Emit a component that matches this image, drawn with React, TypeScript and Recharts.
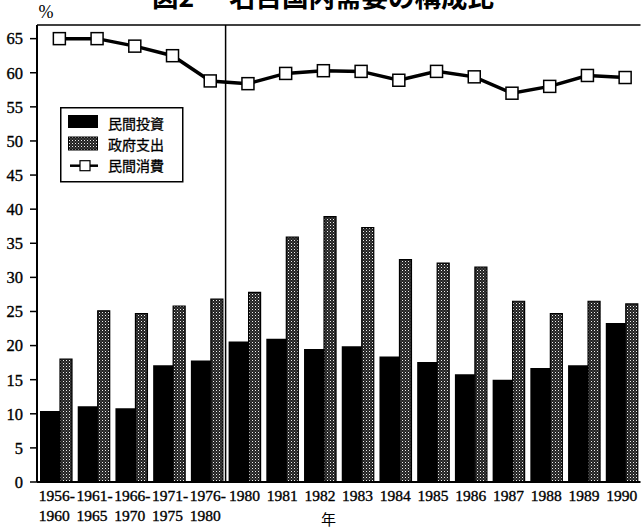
import React from "react";
import { ComposedChart, Bar, Line, XAxis, YAxis, ReferenceLine, Legend } from "recharts";

const categories = [
  "1956-1960", "1961-1965", "1966-1970", "1971-1975", "1976-1980",
  "1980", "1981", "1982", "1983", "1984", "1985", "1986", "1987", "1988", "1989", "1990",
];
const privateInvestment = [10.4, 11.1, 10.8, 17.1, 17.8, 20.6, 21.0, 19.5, 19.9, 18.4, 17.6, 15.8, 15.0, 16.7, 17.1, 23.3];
const governmentSpending = [18.0, 25.1, 24.7, 25.8, 26.8, 27.8, 35.9, 38.9, 37.3, 32.6, 32.1, 31.5, 26.5, 24.7, 26.5, 26.1];
const privateConsumption = [65.0, 65.0, 63.9, 62.5, 58.8, 58.4, 59.9, 60.3, 60.2, 58.9, 60.2, 59.4, 57.0, 58.0, 59.6, 59.3];
const yTicks = [0, 5, 10, 15, 20, 25, 30, 35, 40, 45, 50, 55, 60, 65];

const seriesNames = ["民間投資", "政府支出", "民間消費"];

const data = categories.map((c, i) => ({
  year: c,
  inv: privateInvestment[i],
  gov: governmentSpending[i],
  cons: privateConsumption[i],
}));

const serif = "'Liberation Serif', 'Times New Roman', serif";
const gothic = "'Noto Sans CJK JP', 'Noto Sans', sans-serif";

const DotPattern = ({ id }: { id: string }) => (
  <pattern id={id} width={3} height={3} patternUnits="userSpaceOnUse">
    <rect width={3} height={3} fill="#222" />
    <rect x={0} y={0} width={1} height={1} fill="#eee" />
    <rect x={1.5} y={1.5} width={1} height={1} fill="#777" />
  </pattern>
);

const YearTick = (props: any) => {
  const { x, y, payload } = props;
  const parts = String(payload.value).split("-");
  const style = { fontFamily: serif, fontSize: 15.5, fill: "#000", stroke: "#000", strokeWidth: 0.35 };
  if (parts.length === 2) {
    return (
      <g>
        <text x={x - 17} y={y + 19} textAnchor="start" {...style}>{parts[0]}-</text>
        <text x={x - 17} y={y + 39} textAnchor="start" {...style}>{parts[1]}</text>
      </g>
    );
  }
  return (
    <text x={x} y={y + 19} textAnchor="middle" {...style}>{payload.value}</text>
  );
};

const SquareDot = (props: any) => {
  const { cx, cy, index } = props;
  if (cx == null || cy == null) return null;
  return (
    <rect key={index} x={cx - 6} y={cy - 6} width={12} height={12} fill="#fff" stroke="#000" strokeWidth={1.5} />
  );
};

const LegendBox = () => {
  const txt = { fontFamily: gothic, fontSize: 14, fill: "#000", stroke: "#000", strokeWidth: 0.3 };
  return (
    <svg width={124} height={76} style={{ display: "block" }}>
      <defs>
        <DotPattern id="govDotsLegend" />
      </defs>
      <rect x={0.75} y={0.75} width={122} height={74} fill="#fff" stroke="#000" strokeWidth={1.5} />
      <rect x={8} y={8} width={30} height={13} fill="#000" />
      <text x={48} y={21.5} {...txt}>{seriesNames[0]}</text>
      <rect x={8.5} y={30} width={29} height={13} fill="url(#govDotsLegend)" stroke="#000" strokeWidth={1} />
      <text x={48} y={42.5} {...txt}>{seriesNames[1]}</text>
      <line x1={10} x2={38} y1={58.7} y2={58.7} stroke="#000" strokeWidth={2.5} />
      <rect x={20} y={53.7} width={10} height={10} fill="#fff" stroke="#000" strokeWidth={1.2} />
      <text x={48} y={63.5} {...txt}>{seriesNames[2]}</text>
    </svg>
  );
};

export default function App() {
  return (
    <div style={{ position: "absolute", left: 0, top: 0, width: 643, height: 530, background: "#fff" }}>
      <ComposedChart
        width={643}
        height={530}
        data={data}
        margin={{ top: 25, right: 2.5, bottom: 0, left: 0 }}
        barGap={0}
      >
        <defs>
          <DotPattern id="govDots" />
        </defs>
        <XAxis
          dataKey="year"
          height={48}
          tick={<YearTick />}
          tickLine={false}
          tickSize={0}
          tickMargin={0}
          interval={0}
          axisLine={{ stroke: "#000", strokeWidth: 2 }}
        />
        <XAxis
          xAxisId="pts"
          dataKey="year"
          hide
          padding={{ left: 3.5, right: -3.5 }}
        />
        <YAxis
          width={37}
          domain={[0, 67]}
          ticks={yTicks}
          interval={0}
          tickSize={7}
          tickMargin={7}
          tick={{ fontFamily: serif, fontSize: 16.5, fill: "#000", stroke: "#000", strokeWidth: 0.35 }}
          tickLine={{ stroke: "#000", strokeWidth: 1.5 }}
          axisLine={{ stroke: "#000", strokeWidth: 2 }}
        />
        <ReferenceLine y={67} stroke="#000" strokeWidth={1.5} />
        <ReferenceLine x="1980" position="start" stroke="#000" strokeWidth={1.5} />
        <Bar dataKey="inv" name={seriesNames[0]} fill="#000" barSize={20} isAnimationActive={false} />
        <Bar
          dataKey="gov"
          name={seriesNames[1]}
          fill="url(#govDots)"
          stroke="#000"
          strokeWidth={1.2}
          barSize={12}
          isAnimationActive={false}
        />
        <Line
          xAxisId="pts"
          dataKey="cons"
          name={seriesNames[2]}
          type="linear"
          stroke="#000"
          strokeWidth={3.5}
          dot={<SquareDot />}
          activeDot={false}
          isAnimationActive={false}
        />
        <Legend
          layout="horizontal"
          verticalAlign="middle"
          align="center"
          content={() => <LegendBox />}
          wrapperStyle={{ left: 60, top: 107, width: 124, height: 76 }}
        />
      </ComposedChart>
      <svg
        width={643}
        height={530}
        style={{ position: "absolute", left: 0, top: 0, pointerEvents: "none" }}
      >
        <text x={152} y={6.5} fontFamily={gothic} fontSize={26.5} fontWeight="bold" fill="#000">図2</text>
        <text x={229} y={6.5} fontFamily={gothic} fontSize={26.5} fontWeight="bold" fill="#000">名目国内需要の構成比</text>
        <text x={46} y={18} textAnchor="middle" fontFamily={serif} fontSize={18} fill="#000">%</text>
        <text x={321} y={525} fontFamily={gothic} fontSize={15} fill="#000">年</text>
      </svg>
    </div>
  );
}
